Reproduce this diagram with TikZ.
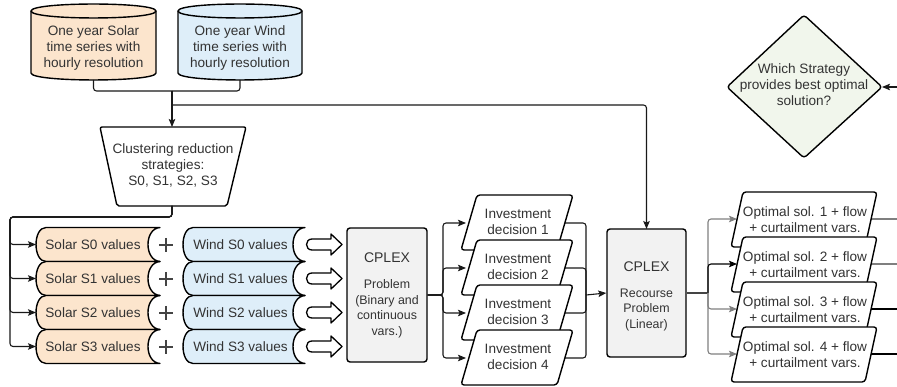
\documentclass[tikz,border=0pt]{standalone}
\usepackage{fontspec}
\setmainfont{Liberation Sans}
\usetikzlibrary{arrows.meta}

\definecolor{solarfill}{HTML}{FCE5CD}
\definecolor{windfill}{HTML}{DEEEF9}
\definecolor{boxfill}{HTML}{F2F2F2}
\definecolor{decfill}{HTML}{F1F6EC}
\definecolor{inkgray}{HTML}{333333}
\definecolor{wiregray}{HTML}{7F7F7F}
\definecolor{plusgray}{HTML}{444444}

\tikzset{
  outline/.style={draw=black, line width=1.4pt, line join=round},
  wire/.style={draw=black!90, line width=1.1pt, rounded corners=3},
  tipped/.style={-{Stealth[length=8pt,width=6.5pt,inset=1.5pt]}},
  lbl/.style={text=inkgray, align=center, inner sep=0pt, font=\fontsize{13.6}{16}\selectfont},
  minor/.style={lbl, font=\fontsize{12.4}{15.5}\selectfont},
  headline/.style={lbl, font=\fontsize{14}{16}\selectfont},
}

\begin{document}
\begin{tikzpicture}[x=1pt,y=-1pt]
\useasboundingbox (0,0) rectangle (897,387);

% ---------- anchor points ----------
\coordinate (solarB) at (93.5,80);
\coordinate (windB) at (240,80);
\coordinate (merge) at (172,91);
\coordinate (tap) at (172,105);
\coordinate (trapT) at (172,127);
\coordinate (trapB) at (172,206);
\coordinate (bus) at (10,217);
\coordinate (recT) at (646.5,229);
\coordinate (fan1) at (443,295);
\coordinate (gather) at (586,295);
\coordinate (fan2) at (708,293);
\coordinate (decR) at (882,87);
\coordinate (feed) at (897,87);

% ---------- input time series (cylinders) ----------
\filldraw[outline, fill=solarfill] (31,11) -- (31,73)
  .. controls (31,82.3) and (156,82.3) .. (156,73) -- (156,11)
  .. controls (156,1.7) and (31,1.7) .. (31,11) -- cycle;
\draw[outline] (31,11) .. controls (31,20.3) and (156,20.3) .. (156,11);
\node[lbl] (solartxt) at (93.5,48) {One year Solar\\time series with\\hourly resolution};

\filldraw[outline, fill=windfill] (178,11) -- (178,73)
  .. controls (178,82.3) and (302,82.3) .. (302,73) -- (302,11)
  .. controls (302,1.7) and (178,1.7) .. (178,11) -- cycle;
\draw[outline] (178,11) .. controls (178,20.3) and (302,20.3) .. (302,11);
\node[lbl] (windtxt) at (240,48) {One year Wind\\time series with\\hourly resolution};

% ---------- merge and clustering ----------
\draw[wire] (solarB) |- (merge);
\draw[wire] (windB) |- (merge);
\draw[wire,tipped] (merge) -- (trapT);
\draw[wire,tipped] (tap) -| (recT);

\filldraw[outline, fill=white, rounded corners=2] (100,127) -- (246,127) -- (227,206) -- (117,206) -- cycle;
\node[lbl] (clust) at (173,165.5) {Clustering reduction\\strategies:\\S0, S1, S2, S3};

% ---------- strategy rows ----------
\foreach \k in {0,...,3} {
  \coordinate (sIn\k) at (36,{244.5+34*\k});
  \draw[wire,tipped] (trapB) |- (bus) |- (sIn\k);
}

\foreach \k in {0,...,3} {
  \pgfmathsetmacro{\yt}{227.5+34*\k}
  \pgfmathsetmacro{\yb}{\yt+34}
  \pgfmathsetmacro{\yc}{\yt+17}
  % solar values
  \filldraw[outline, fill=solarfill] (46,\yt) -- (160,\yt)
    .. controls (144,\yt+1) and (144,\yb-1) .. (160,\yb) -- (46,\yb)
    .. controls (32.7,\yb) and (32.7,\yt) .. (46,\yt) -- cycle;
  \node[lbl] (solar\k) at (93,\yc) {Solar S\k{} values};
  % plus sign
  \draw[plusgray, line width=2.2pt] (159,\yc+0.5) -- (173,\yc+0.5) (166,\yc-6.5) -- (166,\yc+7.5);
  % wind values
  \filldraw[outline, fill=windfill] (193,\yt) -- (305,\yt)
    .. controls (289,\yt+1) and (289,\yb-1) .. (305,\yb) -- (193,\yb)
    .. controls (179.7,\yb) and (179.7,\yt) .. (193,\yt) -- cycle;
  \node[lbl] (wind\k) at (240.5,\yc) {Wind S\k{} values};
  % block arrow
  \filldraw[draw=black, line width=1.3pt, line join=round, fill=white]
    (312,\yc-5.5) -- (331,\yc-5.5) -- (331,\yc-10.5) -- (342,\yc) -- (331,\yc+10.5)
    -- (331,\yc+5.5) -- (312,\yc+5.5) .. controls (304.7,\yc+5.5) and (304.7,\yc-5.5) .. cycle;
}

% ---------- first stage problem ----------
\node[outline, fill=boxfill, rounded corners=3, minimum width=80, minimum height=134, inner sep=0pt] (cp1) at (387,295) {};
\node[headline] (cp1title) at (387,258) {CPLEX};
\node[minor] (cp1body) at (387,309) {Problem\\(Binary and\\continuous\\vars.)};

% ---------- investment decisions ----------
\foreach \k in {0,...,3} {
  \coordinate (invIn\k) at (466,{223+45*\k});
  \coordinate (invMid\k) at (518,{223+45*\k});
  \draw[wire,tipped] (cp1.east) -- (fan1) |- (invIn\k);
  \draw[wire] (invMid\k) -| (gather);
}
\foreach \k in {0,...,3} {
  \pgfmathsetmacro{\yt}{195+45*\k}
  \pgfmathsetmacro{\yb}{\yt+55}
  \filldraw[outline, fill=white, rounded corners=3] (477,\yt) -- (573,\yt) -- (557,\yb) -- (461,\yb) -- cycle;
  \pgfmathtruncatemacro{\n}{\k+1}
  \node[lbl] (inv\k) at (518,\yt+27) {Investment\\decision \n};
}

% ---------- recourse problem ----------
\node[outline, fill=boxfill, rounded corners=3, minimum width=79, minimum height=128, inner sep=0pt] (rec) at (646.5,293) {};
\draw[wire,tipped] (gather) -- (rec.west);
\node[headline] (rectitle) at (646.5,267) {CPLEX};
\node[minor] (recbody) at (646.5,310) {Recourse\\Problem\\(Linear)};

% ---------- optimal solutions ----------
\foreach \k/\c in {0/wiregray,1/wiregray,2/black,3/black} {
  \coordinate (optMid\k) at (806,{219+45*\k});
  \coordinate (exit\k) at (897,{219+45*\k});
  \draw[wire, draw=\c] (optMid\k) -- (exit\k);
}
\draw[wire, draw=plusgray] (rec.east) -- (fan2);
\foreach \k/\c in {0/wiregray,1/black,2/wiregray,3/wiregray} {
  \coordinate (optIn\k) at (737,{219+45*\k});
  \draw[wire, draw=\c, tipped] (fan2) |- (optIn\k);
}
\foreach \k in {0,...,3} {
  \pgfmathsetmacro{\yt}{192+45*\k}
  \pgfmathsetmacro{\yb}{\yt+55}
  \filldraw[outline, fill=white, rounded corners=3] (743,\yt) -- (877,\yt) -- (865,\yb) -- (731,\yb) -- cycle;
  \pgfmathtruncatemacro{\n}{\k+1}
  \node[lbl] (opt\k) at (805,\yt+27.5) {Optimal sol. \n{} + flow\\+ curtailment vars.};
}

% ---------- decision ----------
\filldraw[outline, fill=decfill, rounded corners=3] (804,15) -- (882,87) -- (804,158) -- (727,87) -- cycle;
\node[lbl] (best) at (804,85) {Which Strategy\\provides best optimal\\solution?};
\draw[wire,tipped] (feed) -- (decR);

\end{tikzpicture}
\end{document}
